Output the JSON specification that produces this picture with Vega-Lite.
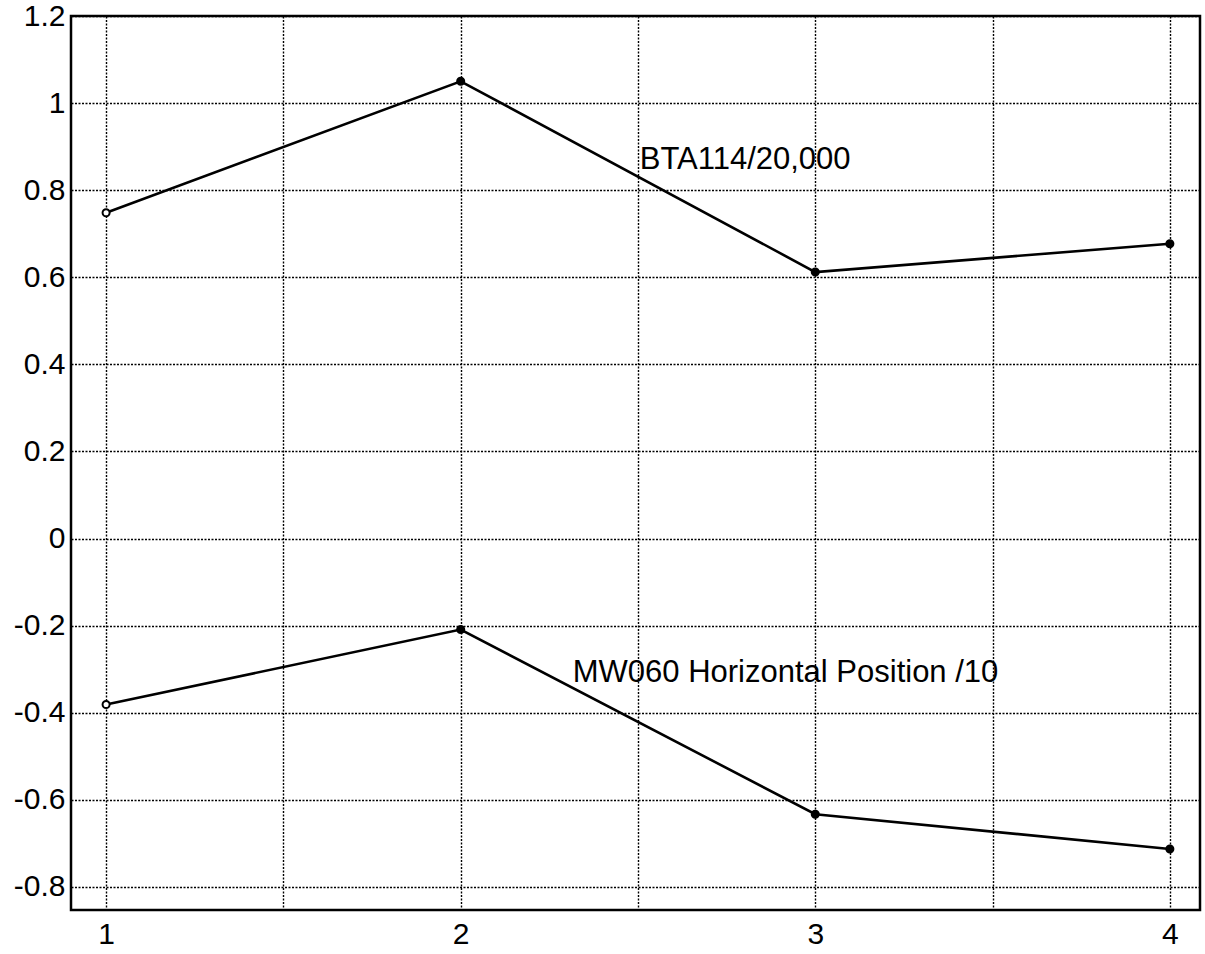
{
  "$schema": "https://vega.github.io/schema/vega-lite/v6.json",
  "width": 1129,
  "height": 894,
  "autosize": {"type": "none"},
  "padding": {"left": 71, "top": 16, "right": 5, "bottom": 44},
  "background": "white",
  "config": {
    "view": {"stroke": "black", "strokeWidth": 2.5},
    "font": "Liberation Sans"
  },
  "datasets": {
    "series": [
      {"series": "BTA114/20,000", "x": 1, "y": 0.748},
      {"series": "BTA114/20,000", "x": 2, "y": 1.050},
      {"series": "BTA114/20,000", "x": 3, "y": 0.612},
      {"series": "BTA114/20,000", "x": 4, "y": 0.677},
      {"series": "MW060 Horizontal Position /10", "x": 1, "y": -0.381},
      {"series": "MW060 Horizontal Position /10", "x": 2, "y": -0.209},
      {"series": "MW060 Horizontal Position /10", "x": 3, "y": -0.633},
      {"series": "MW060 Horizontal Position /10", "x": 4, "y": -0.713}
    ],
    "labels": [
      {"label": "BTA114/20,000", "x": 2.505, "y": 0.849},
      {"label": "MW060 Horizontal Position /10", "x": 2.316, "y": -0.330}
    ]
  },
  "layer": [
    {
      "data": {"name": "series"},
      "mark": {"type": "line", "color": "black", "strokeWidth": 2.6},
      "encoding": {
        "x": {
          "field": "x",
          "type": "quantitative",
          "scale": {"domain": [0.901, 4.085], "nice": false, "zero": false},
          "axis": {
            "values": [1, 1.5, 2, 2.5, 3, 3.5, 4],
            "labelExpr": "datum.value % 1 === 0 ? format(datum.value, 'd') : ''",
            "grid": true,
            "gridColor": "black",
            "gridDash": [2, 1.5],
            "gridWidth": 1.4,
            "gridOpacity": 1,
            "ticks": false,
            "domain": false,
            "labelFontSize": 30,
            "labelColor": "black",
            "labelPadding": 9,
            "labelFlush": false,
            "title": null
          }
        },
        "y": {
          "field": "y",
          "type": "quantitative",
          "scale": {"domain": [-0.853, 1.2], "nice": false, "zero": false},
          "axis": {
            "values": [-0.8, -0.6, -0.4, -0.2, 0, 0.2, 0.4, 0.6, 0.8, 1, 1.2],
            "labelExpr": "(datum.value < -0.0001 ? '-' : '') + format(abs(datum.value), '~g')",
            "grid": true,
            "gridColor": "black",
            "gridDash": [2, 1.5],
            "gridWidth": 1.4,
            "gridOpacity": 1,
            "ticks": false,
            "domain": false,
            "labelFontSize": 30,
            "labelColor": "black",
            "labelPadding": 6,
            "labelFlush": false,
            "title": null
          }
        },
        "detail": {"field": "series"}
      }
    },
    {
      "data": {"name": "series"},
      "mark": {"type": "point", "shape": "circle", "size": 50, "strokeWidth": 2, "opacity": 1, "stroke": "black"},
      "encoding": {
        "x": {"field": "x", "type": "quantitative"},
        "y": {"field": "y", "type": "quantitative"},
        "fill": {"condition": {"test": "datum.x == 1", "value": "white"}, "value": "black"}
      }
    },
    {
      "data": {"name": "labels"},
      "mark": {"type": "text", "align": "left", "baseline": "alphabetic", "fontSize": 31, "color": "black"},
      "encoding": {
        "x": {"field": "x", "type": "quantitative"},
        "y": {"field": "y", "type": "quantitative"},
        "text": {"field": "label"}
      }
    }
  ]
}
